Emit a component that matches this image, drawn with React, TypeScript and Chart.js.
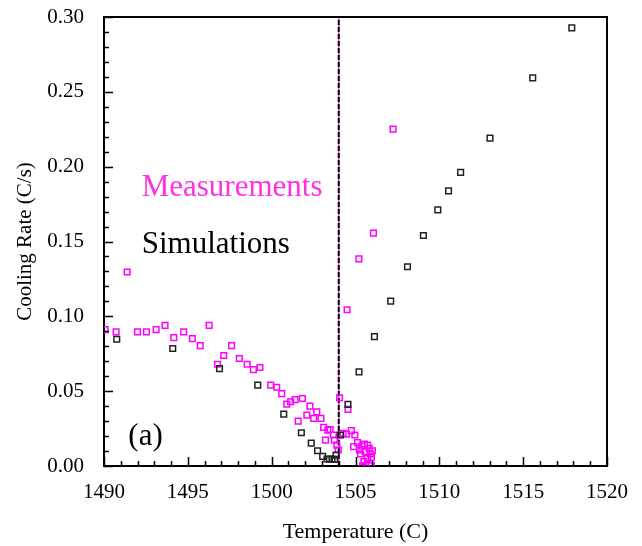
import React, { useEffect, useRef } from "react";
import { Chart, registerables } from "chart.js";

Chart.register(...registerables);

const simX = [1490.76, 1494.1, 1496.89, 1499.17, 1500.72, 1501.77, 1502.36, 1502.74, 1503.04, 1503.3, 1503.45, 1503.6, 1503.75, 1503.84, 1504.1, 1504.55, 1505.21, 1506.13, 1507.1, 1508.1, 1509.05, 1509.91, 1510.55, 1511.27, 1513.02, 1515.57, 1517.9];
const simY = [0.0847, 0.0785, 0.0651, 0.054, 0.0347, 0.0222, 0.0153, 0.0102, 0.0064, 0.0047, 0.0045, 0.0047, 0.0044, 0.0073, 0.0207, 0.0412, 0.0629, 0.0864, 0.1102, 0.1331, 0.154, 0.1711, 0.1838, 0.1962, 0.2191, 0.2593, 0.2927];

const measX = [1490.06, 1490.72, 1491.38, 1492.0, 1492.53, 1493.11, 1493.64, 1494.16, 1494.75, 1495.27, 1495.74, 1496.27, 1496.77, 1497.14, 1497.61, 1498.07, 1498.54, 1498.91, 1499.3, 1499.94, 1500.3, 1500.6, 1500.9, 1501.13, 1501.4, 1501.83, 1501.58, 1502.28, 1502.1, 1502.51, 1502.69, 1502.94, 1503.1, 1503.49, 1503.21, 1503.35, 1503.68, 1503.74, 1503.89, 1503.97, 1504.05, 1504.26, 1504.46, 1504.55, 1504.75, 1504.96, 1504.89, 1505.12, 1505.24, 1505.37, 1505.53, 1505.72, 1505.82, 1506.01, 1505.3, 1505.57, 1505.88, 1505.72, 1505.95, 1505.43, 1505.63, 1505.95, 1505.5, 1504.5, 1505.2, 1506.07, 1507.24];
const measY = [0.0911, 0.0896, 0.1296, 0.0896, 0.0896, 0.0911, 0.094, 0.0858, 0.0896, 0.0851, 0.0804, 0.094, 0.068, 0.0738, 0.0804, 0.0718, 0.068, 0.0644, 0.0658, 0.054, 0.0526, 0.0484, 0.0413, 0.0429, 0.0444, 0.0451, 0.03, 0.04, 0.034, 0.0318, 0.0362, 0.0318, 0.0258, 0.0244, 0.0173, 0.024, 0.0207, 0.0173, 0.014, 0.0107, 0.0456, 0.0218, 0.0213, 0.0378, 0.0236, 0.0207, 0.0129, 0.0156, 0.0107, 0.0133, 0.0147, 0.014, 0.0118, 0.0102, 0.008, 0.0096, 0.008, 0.0051, 0.0058, 0.0002, 0.0002, 0.0002, 0.003, 0.1044, 0.1384, 0.1556, 0.2251];

const vlineX = [1504, 1504];
const vlineY = [0, 0.3];

const xMin = 1490, xMax = 1520, xMajor = 5, xMinor = 1;
const yMin = 0, yMax = 0.3, yMajor = 0.05, yMinor = 0.01;

const labels = [
  { text: "Measurements", x: 1492.25, y: 0.1807, color: "#ff30e6", size: 31 },
  { text: "Simulations", x: 1492.25, y: 0.142, color: "#000000", size: 31 },
  { text: "(a)", x: 1491.45, y: 0.014, color: "#000000", size: 31 },
];

const SERIF = '"Liberation Serif", "Times New Roman", serif';

export default function App() {
  const ref = useRef<HTMLCanvasElement>(null);
  useEffect(() => {
    const canvas = ref.current!;
    const framePlugin = {
      id: "frame",
      afterDraw(chart: any) {
        const ctx = chart.ctx;
        const { left, right, top, bottom } = chart.chartArea;
        const xs = chart.scales.x, ys = chart.scales.y;
        ctx.save();
        ctx.strokeStyle = "#000";
        ctx.lineWidth = 1.5;
        ctx.beginPath();
        for (let v = xMin; v <= xMax + 1e-9; v += xMinor) {
          const px = Math.round(xs.getPixelForValue(v)) + 0.5;
          const major = Math.abs(v / xMajor - Math.round(v / xMajor)) < 1e-6;
          const len = major ? 9 : 5;
          ctx.moveTo(px, bottom);
          ctx.lineTo(px, bottom - len);
        }
        for (let i = 0; i <= Math.round((yMax - yMin) / yMinor); i++) {
          const v = yMin + i * yMinor;
          const py = Math.round(ys.getPixelForValue(v)) + 0.5;
          const major = i % Math.round(yMajor / yMinor) === 0;
          const len = major ? 9 : 5;
          ctx.moveTo(left, py);
          ctx.lineTo(left + len, py);
        }
        ctx.stroke();
        ctx.lineWidth = 2;
        ctx.beginPath();
        ctx.moveTo(left, top);
        ctx.lineTo(right, top);
        ctx.lineTo(right, bottom);
        ctx.stroke();
        for (const l of labels) {
          ctx.fillStyle = l.color;
          ctx.font = `${l.size}px ${SERIF}`;
          ctx.textBaseline = "alphabetic";
          ctx.textAlign = "left";
          ctx.fillText(l.text, xs.getPixelForValue(l.x), ys.getPixelForValue(l.y));
        }
        ctx.restore();
      },
    };
    const chart = new Chart(canvas, {
      type: "scatter",
      data: {
        datasets: [
          {
            data: simX.map((x, i) => ({ x, y: simY[i] })),
            pointStyle: "rect",
            pointRadius: 4,
            borderWidth: 1.5,
            borderColor: "#222",
            backgroundColor: "rgba(0,0,0,0)",
          },
          {
            data: measX.map((x, i) => ({ x, y: measY[i] })),
            pointStyle: "rect",
            pointRadius: 4,
            borderWidth: 1.5,
            borderColor: "#ff00ff",
            backgroundColor: "rgba(0,0,0,0)",
          },
          {
            type: "line",
            data: vlineX.map((x, i) => ({ x, y: vlineY[i] })),
            borderColor: "#000",
            borderWidth: 2,
            borderDash: [5, 2],
            pointRadius: 0,
            showLine: true,
          } as any,
          {
            type: "line",
            data: vlineX.map((x, i) => ({ x, y: vlineY[i] })),
            borderColor: "#ff33ff",
            borderWidth: 1.5,
            pointRadius: 0,
            showLine: true,
          } as any,
        ],
      },
      options: {
        animation: false,
        responsive: false,
        maintainAspectRatio: false,
        layout: { padding: { left: 0, right: 24, top: 17, bottom: 0 } },
        plugins: { legend: { display: false }, tooltip: { enabled: false } },
        scales: {
          x: {
            type: "linear",
            min: xMin,
            max: xMax,
            afterFit: (s: any) => { s.height = 80; },
            afterBuildTicks: (s: any) => {
              const t = [];
              for (let v = xMin; v <= xMax; v += xMajor) t.push({ value: v });
              s.ticks = t;
            },
            grid: { display: false, drawTicks: false },
            border: { display: true, color: "#000", width: 2 },
            ticks: {
              color: "#000",
              padding: 14,
              font: { family: SERIF, size: 21 },
              maxRotation: 0,
              callback: (v: any) => String(v),
            },
            title: {
              display: true,
              text: "Temperature (C)",
              color: "#000",
              font: { family: SERIF, size: 22 },
              padding: { top: 0, bottom: 1 },
            },
          },
          y: {
            type: "linear",
            min: yMin,
            max: yMax,
            afterFit: (s: any) => { s.width = 104; s.paddingTop = 0; s.paddingBottom = 0; },
            afterBuildTicks: (s: any) => {
              const t = [];
              for (let i = 0; i <= Math.round((yMax - yMin) / yMajor); i++) t.push({ value: yMin + i * yMajor });
              s.ticks = t;
            },
            grid: { display: false, drawTicks: false },
            border: { display: true, color: "#000", width: 2 },
            ticks: {
              color: "#000",
              padding: 20,
              font: { family: SERIF, size: 21 },
              callback: (v: any) => Number(v).toFixed(2),
            },
            title: {
              display: true,
              text: "Cooling Rate (C/s)",
              color: "#000",
              font: { family: SERIF, size: 21 },
              padding: { top: 13, bottom: 0 },
            },
          },
        },
      },
      plugins: [framePlugin],
    } as any);
    return () => chart.destroy();
  }, []);
  return (
    <div style={{ position: "absolute", left: 0, top: 0, width: 642, height: 546, background: "#fff" }}>
      <canvas ref={ref} width={642} height={546} style={{ width: 642, height: 546 }} />
    </div>
  );
}
